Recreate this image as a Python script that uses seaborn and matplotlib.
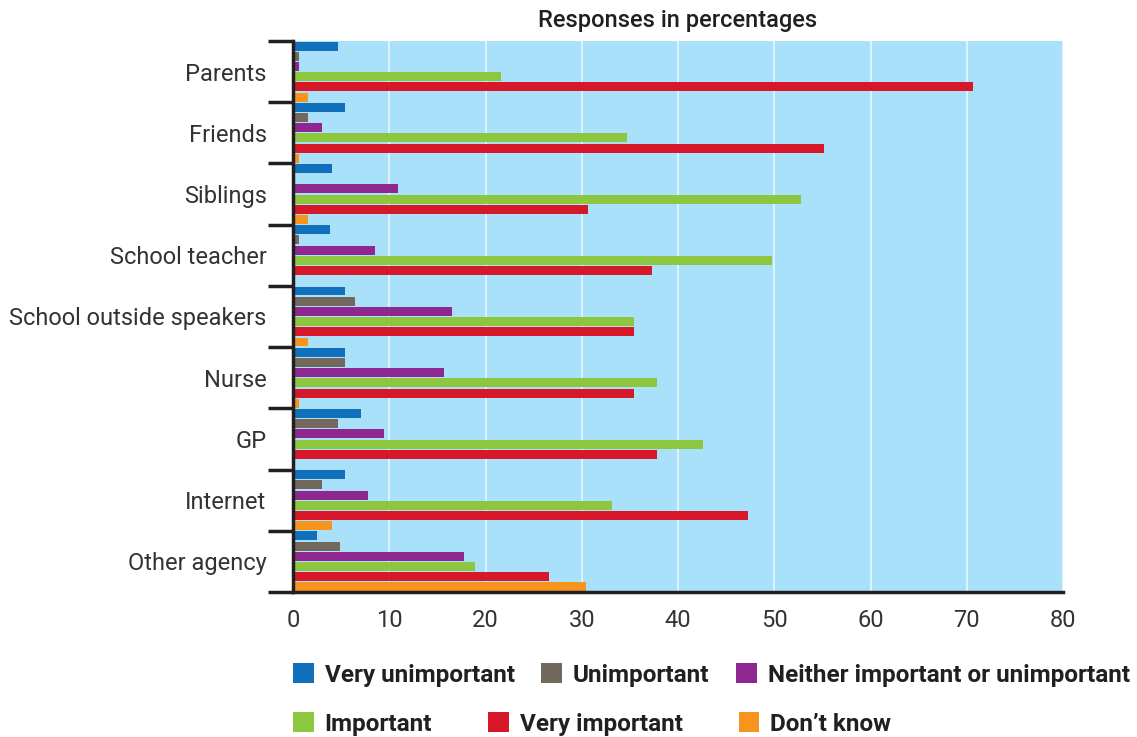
import pandas as pd
import matplotlib.pyplot as plt
import matplotlib.patches as mpatches
import seaborn as sns

# =========================
# Data (percentages)
# =========================
sources = ["Parents", "Friends", "Siblings", "School teacher", "School outside speakers",
           "Nurse", "GP", "Internet", "Other agency"]
responses = ["Very unimportant", "Unimportant", "Neither important or unimportant",
             "Important", "Very important", "Don\u2019t know"]

very_unimportant = [4.7, 5.4, 4.0, 3.8, 5.4, 5.4, 7.1, 5.4, 2.5]
unimportant = [0.65, 1.6, 0.0, 0.65, 6.4, 5.4, 4.7, 3.0, 4.9]
neither = [0.65, 3.0, 10.9, 8.5, 16.5, 15.7, 9.5, 7.8, 17.8]
important = [21.6, 34.7, 52.8, 49.8, 35.4, 37.8, 42.6, 33.1, 18.9]
very_important = [70.7, 55.2, 30.7, 37.3, 35.4, 35.4, 37.8, 47.3, 26.6]
dont_know = [1.6, 0.65, 1.6, 0.0, 1.6, 0.65, 0.0, 4.0, 30.4]

colors = ["#1070BC", "#72685C", "#8E278F", "#8DC63F", "#D7182A", "#F7941D"]

series = [very_unimportant, unimportant, neither, important, very_important, dont_know]
rows = []
for resp, vals in zip(responses, series):
    for src, v in zip(sources, vals):
        rows.append({"Source": src, "Response": resp, "Percent": v})
df = pd.DataFrame(rows)

# =========================
# Plot
# =========================
sns.set_style("white")
plt.rcParams["font.family"] = ["Roboto", "DejaVu Sans"]

fig = plt.figure(figsize=(11.37, 7.37), dpi=100)
ax = fig.add_axes([293 / 1137, 1 - 592 / 737, 770 / 1137, 551 / 737])
ax.set_facecolor("#A9E0FA")

sns.barplot(data=df, y="Source", x="Percent", hue="Response", order=sources,
            hue_order=responses, palette=colors, orient="h", width=1.0, gap=0.12,
            saturation=1, legend=False, linewidth=0, ax=ax, zorder=3)

ax.set_xlim(0, 80)
ax.set_ylim(8.5, -0.5)
ax.set_xticks(range(0, 81, 10))
ax.grid(axis="x", color="white", linewidth=1.5, alpha=0.6, zorder=1)
ax.set_axisbelow(True)
ax.set_xlabel("")
ax.set_ylabel("")

for side in ["top", "right"]:
    ax.spines[side].set_visible(False)
for side in ["left", "bottom"]:
    ax.spines[side].set_color("#231F20")
    ax.spines[side].set_linewidth(2.5)
    ax.spines[side].set_zorder(5)

# category separators as long left ticks
ax.set_yticks([i - 0.5 for i in range(len(sources) + 1)], minor=True)
ax.tick_params(axis="y", which="minor", length=18, width=2.5, color="#231F20", left=True)
ax.tick_params(axis="y", which="major", length=0, pad=19, labelsize=17, labelcolor="#333333")
ax.tick_params(axis="x", which="major", length=0, pad=12, labelsize=17, labelcolor="#333333")

fig.text(678 / 1137, 1 - 21 / 737, "Responses in percentages", ha="center", va="center",
         fontsize=17, color="#231F20", fontweight="medium")

# Legend in two rows
handles = [mpatches.Patch(facecolor=c, edgecolor="none") for c in colors]
leg_kw = dict(frameon=False, handlelength=0.85, handleheight=0.85,
              handletextpad=0.45, borderpad=0, borderaxespad=0, loc="center left",
              prop={"weight": "bold", "size": 17.5})
leg1 = fig.legend(handles[:3], responses[:3], ncol=3, columnspacing=1.1,
                  bbox_to_anchor=(293 / 1137, 1 - 675 / 737), **leg_kw)
leg2 = fig.legend(handles[3:], responses[3:], ncol=3, columnspacing=2.3,
                  bbox_to_anchor=(293 / 1137, 1 - 724 / 737), **leg_kw)
for leg in (leg1, leg2):
    for t in leg.get_texts():
        t.set_color("#231F20")

plt.savefig("out.png", dpi=100)
